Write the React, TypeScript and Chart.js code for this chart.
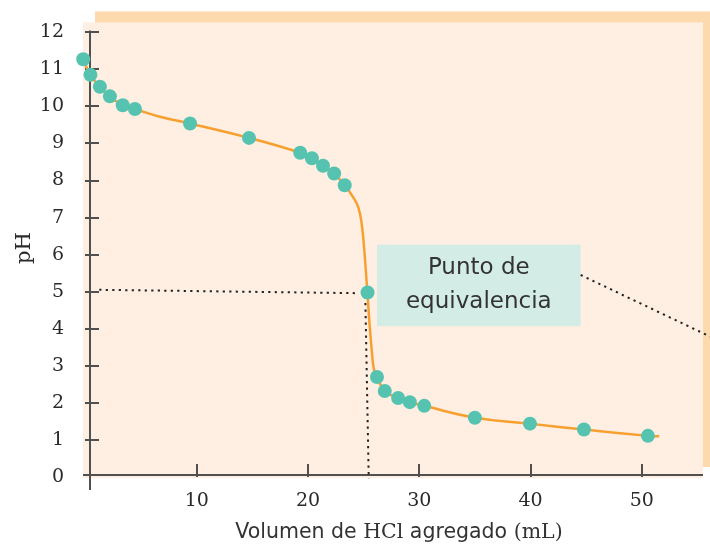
import React, { useEffect, useRef } from 'react';
import { Chart, registerables } from 'chart.js';

Chart.register(...registerables);

// ---- data ----
const pointVolumes = [-0.2, 0.45, 1.3, 2.2, 3.35, 4.45, 9.4, 14.7, 19.3, 20.35, 21.35, 22.35, 23.3, 25.35, 26.2, 26.9, 28.1, 29.15, 30.45, 35.0, 39.95, 44.8, 50.55];
const pointPH = [11.27, 10.85, 10.53, 10.27, 10.03, 9.93, 9.54, 9.15, 8.75, 8.6, 8.4, 8.19, 7.87, 4.98, 2.7, 2.32, 2.13, 2.02, 1.92, 1.6, 1.44, 1.28, 1.11];

const curveVolumes = [-0.2, 0.44, 1.31, 2.18, 3.35, 4.43, 6.7, 9.37, 14.7, 19.29, 20.34, 21.33, 22.34, 23.3, 24.08, 24.53, 24.83, 25.04, 25.22, 25.34, 25.51, 25.73, 25.94, 26.21, 26.9, 28.12, 29.15, 30.46, 35.02, 39.93, 44.79, 50.57, 51.56];
const curvePH = [11.27, 10.85, 10.53, 10.27, 10.03, 9.93, 9.72, 9.54, 9.15, 8.75, 8.6, 8.4, 8.19, 7.87, 7.54, 7.27, 6.82, 6.19, 5.48, 4.98, 4.22, 3.42, 2.88, 2.7, 2.32, 2.13, 2.02, 1.92, 1.6, 1.44, 1.28, 1.11, 1.1];

const hGuideVolumes = [1.24, 24.38];
const hGuidePH = [5.05, 4.96];
const vGuideVolumes = [25.15, 25.46];
const vGuidePH = [4.87, -0.05];
const leaderVolumes = [44.51, 56.14];
const leaderPH = [5.45, 3.79];

const labelLines = ['Punto de', 'equivalencia'];
const labelBoxVolumes = [26.2, 44.5];
const labelBoxPH = [6.27, 4.07];

const xTickValues = [10, 20, 30, 40, 50];
const yTickValues = [0, 1, 2, 3, 4, 5, 6, 7, 8, 9, 10, 11, 12];

const xTitleParts = [
  { text: 'Volumen de ', serif: false },
  { text: 'HCl', serif: true },
  { text: ' agregado ', serif: false },
  { text: '(mL)', serif: true },
];
const yTitle = 'pH';

// ---- styles ----
const SERIF = '"DejaVu Serif", serif';
const SANS = '"DejaVu Sans", sans-serif';
const TEAL = '#56C3B1';
const ORANGE = '#F7A030';
const BG_LIGHT = '#FEEFE2';
const BG_BAND = '#FDDAAE';
const AXIS = '#505050';
const INK = '#2a2a2a';
const BOX = '#D3EDE6';

const toXY = (xs: number[], ys: number[]) => xs.map((x, i) => ({ x, y: ys[i] }));

const decorPlugin = {
  id: 'decor',
  beforeDraw(chart: any) {
    const { ctx, chartArea } = chart;
    const { left, right, top, bottom } = chartArea;
    ctx.save();
    ctx.fillStyle = BG_BAND;
    ctx.fillRect(left + 12, top - 19, right + 7 - (left + 12), bottom - 10 - (top - 19));
    ctx.fillStyle = BG_LIGHT;
    ctx.fillRect(left, top - 8, right - left, bottom + 1 - (top - 8));
    ctx.restore();
  },
  beforeDatasetsDraw(chart: any) {
    const { ctx, chartArea, scales } = chart;
    const { left, right, top, bottom } = chartArea;
    const xs = scales.x;
    const ys = scales.y;
    ctx.save();
    // annotation box
    const bx0 = xs.getPixelForValue(labelBoxVolumes[0]);
    const bx1 = xs.getPixelForValue(labelBoxVolumes[1]);
    const by0 = ys.getPixelForValue(labelBoxPH[0]);
    const by1 = ys.getPixelForValue(labelBoxPH[1]);
    ctx.fillStyle = BOX;
    ctx.fillRect(bx0, by0, bx1 - bx0, by1 - by0);
    ctx.fillStyle = '#333333';
    ctx.font = '23px ' + SANS;
    ctx.textAlign = 'center';
    ctx.textBaseline = 'middle';
    const cx = (bx0 + bx1) / 2;
    const cy = (by0 + by1) / 2;
    ctx.fillText(labelLines[0], cx, cy - 17);
    ctx.fillText(labelLines[1], cx, cy + 17);

    // axes
    ctx.strokeStyle = AXIS;
    ctx.lineWidth = 2;
    const ax = Math.round(left) + 7;
    const ay = Math.round(bottom) - 2;
    ctx.beginPath();
    ctx.moveTo(ax, top);
    ctx.lineTo(ax, bottom + 13);
    ctx.moveTo(left, ay);
    ctx.lineTo(right, ay);
    for (const v of yTickValues) {
      if (v === 0) continue;
      const py = Math.round(ys.getPixelForValue(v));
      ctx.moveTo(ax - 5, py);
      ctx.lineTo(ax + 9, py);
    }
    for (const v of xTickValues) {
      const px = Math.round(xs.getPixelForValue(v));
      ctx.moveTo(px, ay - 11);
      ctx.lineTo(px, ay + 2);
    }
    ctx.stroke();
    ctx.restore();
  },
  afterDraw(chart: any) {
    const { ctx } = chart;
    ctx.save();
    ctx.fillStyle = '#333333';
    // x title (mixed fonts)
    const size = 20.5;
    let total = 0;
    const widths = xTitleParts.map((p) => {
      ctx.font = size + 'px ' + (p.serif ? SERIF : SANS);
      const w = ctx.measureText(p.text).width;
      total += w;
      return w;
    });
    let x = 399 - total / 2;
    ctx.textBaseline = 'alphabetic';
    ctx.textAlign = 'left';
    xTitleParts.forEach((p, i) => {
      ctx.font = size + 'px ' + (p.serif ? SERIF : SANS);
      ctx.fillText(p.text, x, 538);
      x += widths[i];
    });
    // y title
    ctx.fillStyle = INK;
    ctx.translate(25, 248);
    ctx.rotate(-Math.PI / 2);
    ctx.font = '21px ' + SERIF;
    ctx.textAlign = 'center';
    ctx.textBaseline = 'middle';
    ctx.fillText(yTitle, 0, 0);
    ctx.restore();
  },
};

export default function App() {
  const ref = useRef<HTMLCanvasElement>(null);
  useEffect(() => {
    if (!ref.current) return;
    const dotted = {
      showLine: true,
      borderColor: '#222222',
      borderWidth: 2,
      borderDash: [2.2, 4.3],
      pointRadius: 0,
      clip: false as any,
    };
    const chart = new Chart(ref.current, {
      type: 'scatter',
      data: {
        datasets: [
          {
            data: toXY(pointVolumes, pointPH),
            backgroundColor: TEAL,
            borderWidth: 0,
            pointRadius: 7,
            clip: false as any,
          },
          {
            data: toXY(curveVolumes, curvePH),
            showLine: true,
            borderColor: ORANGE,
            borderWidth: 2.5,
            pointRadius: 0,
            tension: 0.45,
            clip: false as any,
          } as any,
          { ...dotted, data: toXY(hGuideVolumes, hGuidePH) },
          { ...dotted, data: toXY(vGuideVolumes, vGuidePH) },
          { ...dotted, data: toXY(leaderVolumes, leaderPH) },
        ],
      },
      options: {
        responsive: false,
        animation: false,
        events: [],
        layout: { autoPadding: false, padding: { top: 29, right: 7, bottom: 0, left: 0 } },
        plugins: { legend: { display: false }, tooltip: { enabled: false } },
        scales: {
          x: {
            type: 'linear',
            min: -0.22,
            max: 55.5,
            grid: { display: false, drawTicks: false },
            border: { display: false },
            afterBuildTicks: (s: any) => {
              s.ticks = xTickValues.map((v) => ({ value: v }));
            },
            afterFit: (s: any) => {
              s.height = 70;
            },
            ticks: {
              padding: 13,
              color: INK,
              font: { family: SERIF, size: 19 },
            },
          },
          y: {
            type: 'linear',
            min: 0,
            max: 12.05,
            grid: { display: false, drawTicks: false },
            border: { display: false },
            afterBuildTicks: (s: any) => {
              s.ticks = yTickValues.map((v) => ({ value: v }));
            },
            afterFit: (s: any) => {
              s.width = 83;
            },
            ticks: {
              padding: 19,
              color: INK,
              font: { family: SERIF, size: 19 },
            },
          },
        },
      },
      plugins: [decorPlugin],
    });
    return () => chart.destroy();
  }, []);
  return (
    <div style={{ position: 'absolute', left: 0, top: 0, width: 710, height: 547 }}>
      <canvas ref={ref} width={710} height={547} />
    </div>
  );
}
